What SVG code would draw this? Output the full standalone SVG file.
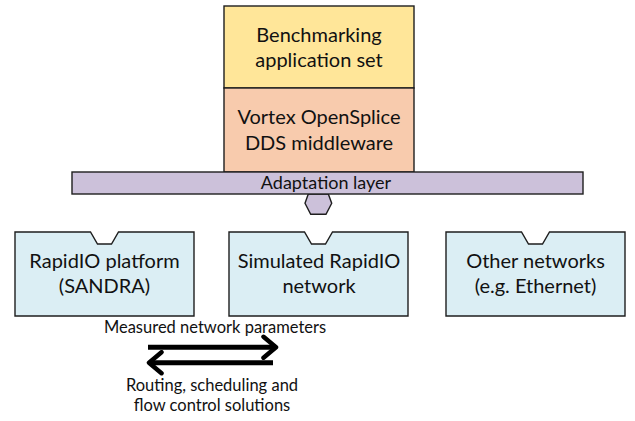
<svg xmlns="http://www.w3.org/2000/svg" width="635" height="421" viewBox="0 0 635 421">
<defs>
<style>
.box{stroke:#1e1e1e;stroke-width:1.4}
.app{fill:#FFE699}
.mw{fill:#F8CBAD}
.ad{fill:#CCC1DA}
.net{fill:#DBEEF4}
text{font-family:Lato,"Liberation Sans",sans-serif;fill:#111;text-anchor:middle}
.t{font-size:20px}
.s{font-size:18px}
.l{font-size:16.5px}
.arr{stroke:#000;stroke-width:5;fill:none}
</style>
<marker id="head" markerUnits="userSpaceOnUse" viewBox="0 0 18 26" refX="15" refY="13" markerWidth="18" markerHeight="26" orient="auto">
<path d="M2.5,2.5 L15,13 L2.5,23.5" fill="none" stroke="#000" stroke-width="4.5" stroke-linecap="round" stroke-linejoin="round"/>
</marker>
</defs>
<rect width="635" height="421" fill="#fff"/>
<g id="benchmarking">
<rect class="box app" x="224" y="6" width="190" height="82"/>
<text class="t" x="319" y="42">Benchmarking</text>
<text class="t" x="319" y="67">application set</text>
</g>
<g id="middleware">
<rect class="box mw" x="224" y="88" width="190" height="84"/>
<text class="t" x="319" y="124">Vortex OpenSplice</text>
<text class="t" x="319" y="150">DDS middleware</text>
</g>
<g id="adaptation">
<path class="box ad" d="M308.3,194 L305,203.3 L310.7,214.3 H326 L331.7,203.3 L328.3,194 Z"/>
<rect class="box ad" x="72" y="172" width="511" height="22"/>
<text class="s" x="326" y="189">Adaptation layer</text>
</g>
<g id="rapidio-platform">
<path class="box net" d="M15,232 H90.5 L97.5,244 H111.5 L118.5,232 H194 V316 H15 Z"/>
<text class="t" x="104.5" y="268">RapidIO platform</text>
<text class="t" x="104.5" y="293">(SANDRA)</text>
</g>
<g id="simulated-rapidio">
<path class="box net" d="M229,232 H304.5 L311.5,244 H325.5 L332.5,232 H408 V316 H229 Z"/>
<text class="t" x="319" y="268">Simulated RapidIO</text>
<text class="t" x="319" y="293">network</text>
</g>
<g id="other-networks">
<path class="box net" d="M446,232 H521.5 L528.5,244 H542.5 L549.5,232 H625 V316 H446 Z"/>
<text class="t" x="535.5" y="268">Other networks</text>
<text class="t" x="535.5" y="293">(e.g. Ethernet)</text>
</g>
<g id="connectors">
<path class="arr" d="M148,347.3 H276" marker-end="url(#head)"/>
<path class="arr" d="M273,362.7 H149" marker-end="url(#head)"/>
<text class="l" x="215" y="333">Measured network parameters</text>
<text class="l" x="212" y="390.5">Routing, scheduling and</text>
<text class="l" x="212" y="410.5">flow control solutions</text>
</g>
</svg>
